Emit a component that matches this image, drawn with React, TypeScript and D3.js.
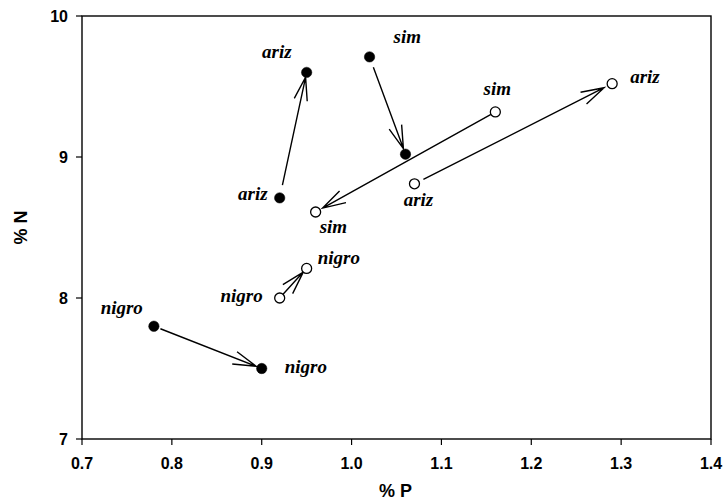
import React from "react";
import * as d3 from "d3";

// ---- data ----
const pointP = [0.92, 0.95, 1.02, 1.06, 1.16, 0.96, 1.07, 1.29, 0.95, 0.92, 0.78, 0.9];
const pointN = [8.71, 9.6, 9.71, 9.02, 9.32, 8.61, 8.81, 9.52, 8.21, 8.0, 7.8, 7.5];
const pointFilled = [true, true, true, true, false, false, false, false, false, false, true, true];
const pointLabel = ["ariz", "ariz", "sim", "", "sim", "sim", "ariz", "ariz", "nigro", "nigro", "nigro", "nigro"];
const arrowFrom = [0, 2, 4, 6, 9, 10];
const arrowTo = [1, 3, 5, 7, 8, 11];
const xTicks = [0.7, 0.8, 0.9, 1.0, 1.1, 1.2, 1.3, 1.4];
const yTicks = [7, 8, 9, 10];

// ---- layout (styles only) ----
const labelLayout: { anchor: string; dx: number; dy: number }[] = [
  { anchor: "end", dx: -12, dy: 2 },
  { anchor: "end", dx: -15, dy: -14 },
  { anchor: "start", dx: 24, dy: -14 },
  { anchor: "start", dx: 0, dy: 0 },
  { anchor: "middle", dx: 2, dy: -17 },
  { anchor: "start", dx: 4, dy: 21 },
  { anchor: "middle", dx: 4, dy: 22 },
  { anchor: "start", dx: 18, dy: -1 },
  { anchor: "start", dx: 11, dy: -4 },
  { anchor: "end", dx: -17, dy: 4 },
  { anchor: "end", dx: -11, dy: -12 },
  { anchor: "start", dx: 23, dy: 4 },
];
const arrowGaps = [
  [13, 5],
  [11, 6],
  [5, 8],
  [10, 9],
  [5, 5],
  [7, 6],
];

const W = 724;
const H = 502;
const L = 82, R = 711, T = 16, B = 439;

export default function App() {
  const x = d3.scaleLinear().domain([0.7, 1.4]).range([L, R]);
  const y = d3.scaleLinear().domain([7, 10]).range([B, T]);
  const fmt = d3.format(".1f");
  const tickFont = "'Liberation Sans', Arial, sans-serif";
  const labelFont = "'Liberation Serif', 'Times New Roman', serif";

  const arrows = arrowFrom.map((f, i) => {
    const t = arrowTo[i];
    const x0 = x(pointP[f]), y0 = y(pointN[f]);
    const x1 = x(pointP[t]), y1 = y(pointN[t]);
    const len = Math.hypot(x1 - x0, y1 - y0);
    const ux = (x1 - x0) / len, uy = (y1 - y0) / len;
    const [sg, eg] = arrowGaps[i];
    const sx = x0 + ux * sg, sy = y0 + uy * sg;
    const tx = x1 - ux * eg, ty = y1 - uy * eg;
    const hl = 24, ang = (16 * Math.PI) / 180;
    const bx = -ux, by = -uy;
    const h1x = tx + hl * (bx * Math.cos(ang) - by * Math.sin(ang));
    const h1y = ty + hl * (bx * Math.sin(ang) + by * Math.cos(ang));
    const h2x = tx + hl * (bx * Math.cos(-ang) - by * Math.sin(-ang));
    const h2y = ty + hl * (bx * Math.sin(-ang) + by * Math.cos(-ang));
    const path = d3.path();
    path.moveTo(sx, sy);
    path.lineTo(tx, ty);
    path.moveTo(h1x, h1y);
    path.lineTo(tx, ty);
    path.lineTo(h2x, h2y);
    return <path key={"a" + i} d={path.toString()} fill="none" stroke="#000" strokeWidth={1.4} />;
  });

  return (
    <svg
      width={W}
      height={H}
      style={{ position: "absolute", left: 0, top: 0, display: "block", background: "#fff" }}
    >
      <rect x={0} y={0} width={W} height={H} fill="#fff" />
      {/* frame */}
      <rect x={L} y={T} width={R - L} height={B - T} fill="none" stroke="#000" strokeWidth={1.4} />
      {/* x ticks */}
      {xTicks.map((t) => (
        <g key={"xt" + t}>
          <line x1={x(t)} x2={x(t)} y1={B} y2={B + 6} stroke="#000" strokeWidth={1.2} />
          <text
            x={x(t)}
            y={B + 30}
            textAnchor="middle"
            fontFamily={tickFont}
            fontWeight="bold"
            fontSize={16}
          >
            {fmt(t)}
          </text>
        </g>
      ))}
      {/* y ticks */}
      {yTicks.map((t) => (
        <g key={"yt" + t}>
          <line x1={L - 6} x2={L} y1={y(t)} y2={y(t)} stroke="#000" strokeWidth={1.2} />
          <text
            x={L - 14}
            y={y(t) + 6}
            textAnchor="end"
            fontFamily={tickFont}
            fontWeight="bold"
            fontSize={16}
          >
            {t}
          </text>
        </g>
      ))}
      {/* axis titles */}
      <text x={(L + R) / 2 - 1} y={497} textAnchor="middle" fontFamily={tickFont} fontWeight="bold" fontSize={18}>
        % P
      </text>
      <text
        transform={`translate(27, ${(T + B) / 2}) rotate(-90)`}
        textAnchor="middle"
        fontFamily={tickFont}
        fontWeight="bold"
        fontSize={18}
      >
        % N
      </text>
      {arrows}
      {/* points */}
      {pointP.map((p, i) => (
        <circle
          key={"p" + i}
          cx={x(p)}
          cy={y(pointN[i])}
          r={pointFilled[i] ? 5.2 : 5}
          fill={pointFilled[i] ? "#000" : "#fff"}
          stroke="#000"
          strokeWidth={pointFilled[i] ? 0.5 : 1.3}
        />
      ))}
      {/* labels */}
      {pointLabel.map((lab, i) =>
        lab ? (
          <text
            key={"l" + i}
            x={x(pointP[i]) + labelLayout[i].dx}
            y={y(pointN[i]) + labelLayout[i].dy}
            textAnchor={labelLayout[i].anchor as any}
            fontFamily={labelFont}
            fontStyle="italic"
            fontWeight="bold"
            fontSize={19}
          >
            {lab}
          </text>
        ) : null
      )}
    </svg>
  );
}
